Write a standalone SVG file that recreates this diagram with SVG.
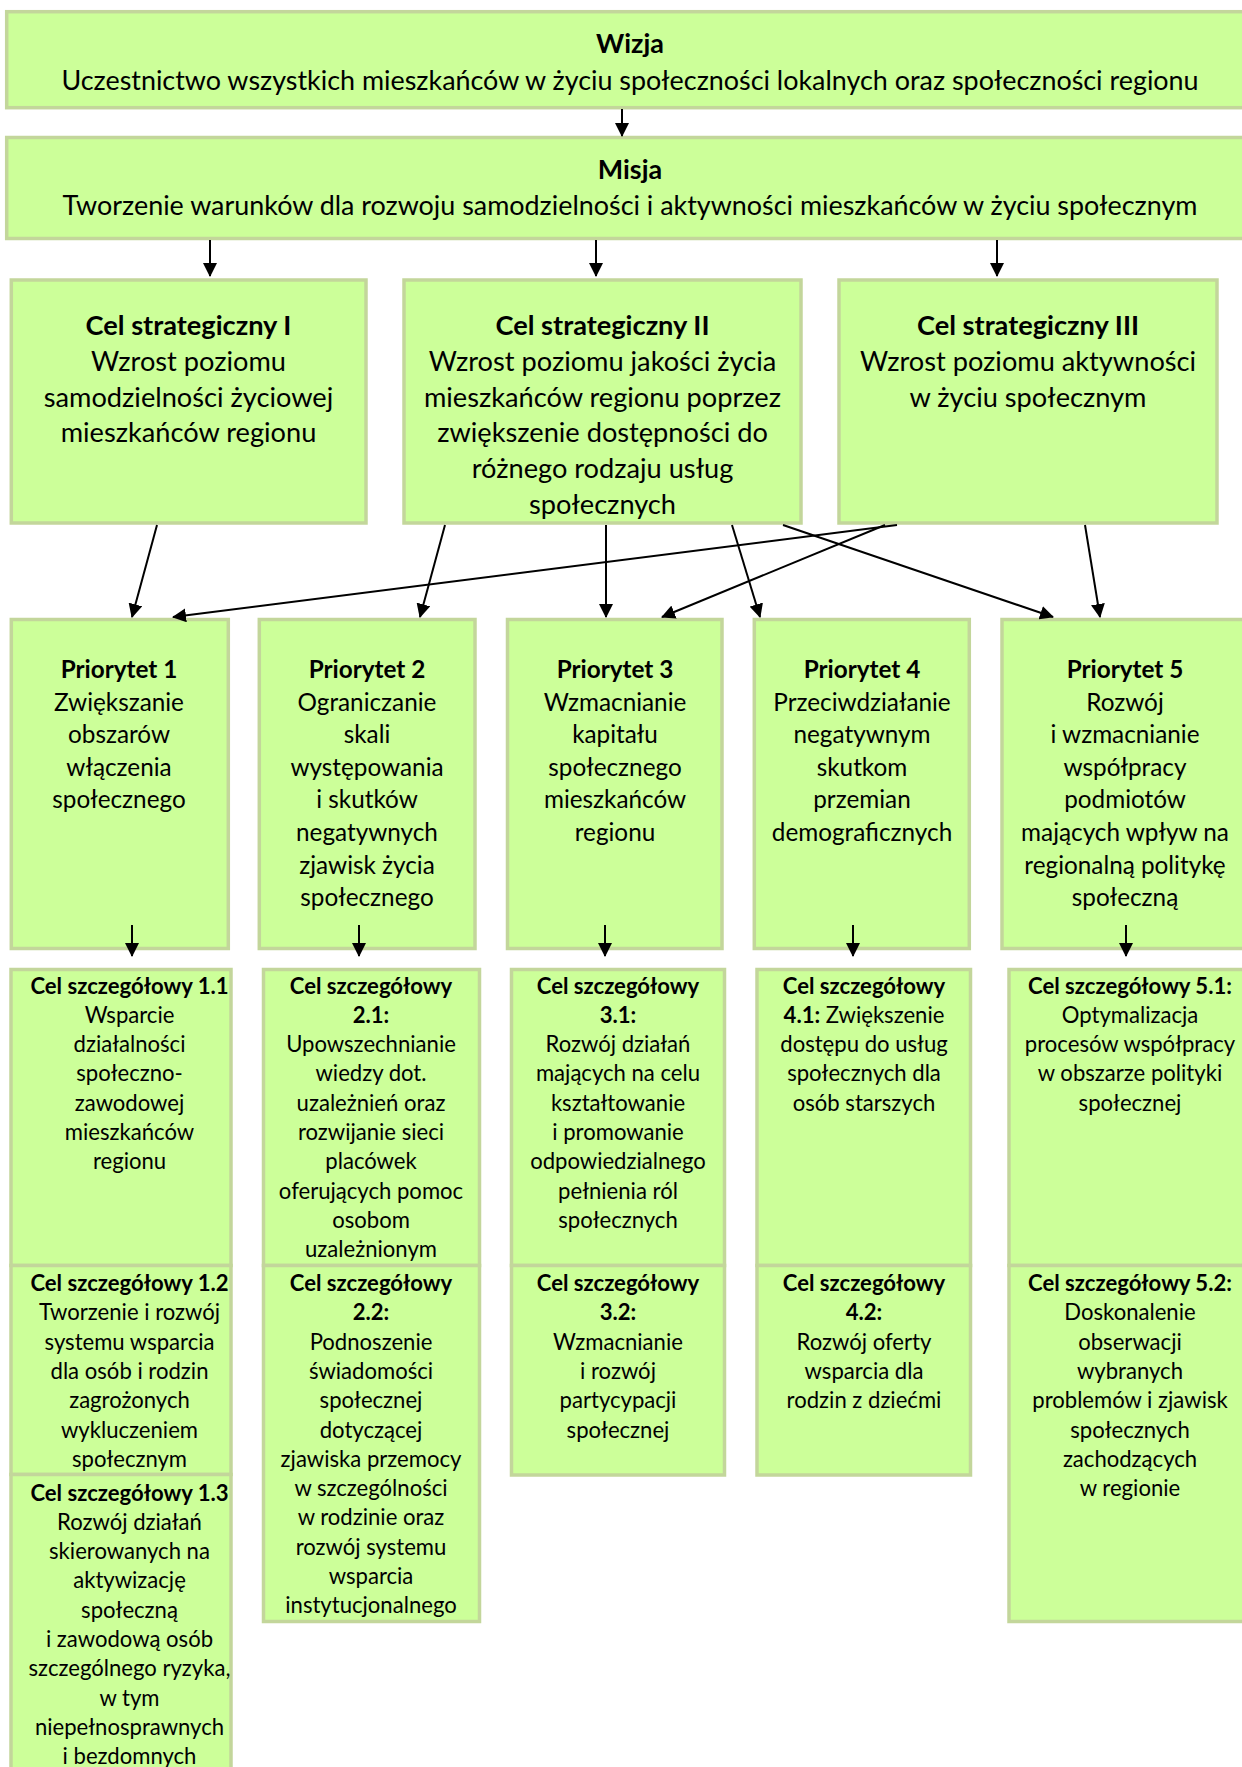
<svg xmlns="http://www.w3.org/2000/svg" width="1242" height="1767" viewBox="0 0 1242 1767">
<defs>
<marker id="ah" viewBox="0 0 14 14" markerWidth="14" markerHeight="14" refX="13" refY="7" orient="auto" markerUnits="userSpaceOnUse"><path d="M0,0 L14,7 L0,14 z" fill="#000"/></marker>
<style>
.box{fill:#CCFF99;stroke:#C3D69B;stroke-width:3.5}
text{font-family:Lato,"Noto Sans",sans-serif;fill:#000;text-anchor:middle}
.b{font-weight:bold}
.t1{font-size:26.9px}
.t2{font-size:27.2px}
.t3{font-size:24.3px}
.t4{font-size:22.1px}
.c{stroke:#000;stroke-width:2;fill:none;marker-end:url(#ah)}
</style>
</defs>
<rect width="1242" height="1767" fill="#fff"/>

<g id="wizja">
<rect class="box" x="6.7" y="11.7" width="1260" height="96"/>
<text class="t1 b" x="630" y="53">Wizja</text>
<text class="t1" x="630" y="90">Uczestnictwo wszystkich mieszkańców w życiu społeczności lokalnych oraz społeczności regionu</text>
</g>
<g id="misja">
<rect class="box" x="6.7" y="137.5" width="1260" height="101"/>
<text class="t1 b" x="630" y="179">Misja</text>
<text class="t1" x="630" y="215">Tworzenie warunków dla rozwoju samodzielności i aktywności mieszkańców w życiu społecznym</text>
</g>

<g id="cel-strategiczny-1">
<rect class="box" x="11.3" y="280" width="354.7" height="243"/>
<text class="t2"><tspan class="b" x="188.5" y="335">Cel strategiczny I</tspan><tspan x="188.5" y="370.8">Wzrost poziomu</tspan><tspan x="188.5" y="406.6">samodzielności życiowej</tspan><tspan x="188.5" y="442.4">mieszkańców regionu</tspan></text>
</g>
<g id="cel-strategiczny-2">
<rect class="box" x="404" y="280" width="397" height="243"/>
<text class="t2"><tspan class="b" x="602.5" y="335">Cel strategiczny II</tspan><tspan x="602.5" y="370.8">Wzrost poziomu jakości życia</tspan><tspan x="602.5" y="406.6">mieszkańców regionu poprzez</tspan><tspan x="602.5" y="442.4">zwiększenie dostępności do</tspan><tspan x="602.5" y="478.2">różnego rodzaju usług</tspan><tspan x="602.5" y="514">społecznych</tspan></text>
</g>
<g id="cel-strategiczny-3">
<rect class="box" x="839" y="280" width="378" height="243"/>
<text class="t2"><tspan class="b" x="1028" y="335">Cel strategiczny III</tspan><tspan x="1028" y="370.8">Wzrost poziomu aktywności</tspan><tspan x="1028" y="406.6">w życiu społecznym</tspan></text>
</g>

<g id="priorytet-1">
<rect class="box" x="11.3" y="619.5" width="217" height="329"/>
<text class="t3"><tspan class="b" x="119" y="678">Priorytet 1</tspan><tspan x="119" y="710.6">Zwiększanie</tspan><tspan x="119" y="743.2">obszarów</tspan><tspan x="119" y="775.8">włączenia</tspan><tspan x="119" y="808.4">społecznego</tspan></text>
</g>
<g id="priorytet-2">
<rect class="box" x="259.3" y="619.5" width="215.7" height="329"/>
<text class="t3"><tspan class="b" x="367" y="678">Priorytet 2</tspan><tspan x="367" y="710.6">Ograniczanie</tspan><tspan x="367" y="743.2">skali</tspan><tspan x="367" y="775.8">występowania</tspan><tspan x="367" y="808.4">i skutków</tspan><tspan x="367" y="841">negatywnych</tspan><tspan x="367" y="873.6">zjawisk życia</tspan><tspan x="367" y="906.2">społecznego</tspan></text>
</g>
<g id="priorytet-3">
<rect class="box" x="507.5" y="619.5" width="214.5" height="329"/>
<text class="t3"><tspan class="b" x="615" y="678">Priorytet 3</tspan><tspan x="615" y="710.6">Wzmacnianie</tspan><tspan x="615" y="743.2">kapitału</tspan><tspan x="615" y="775.8">społecznego</tspan><tspan x="615" y="808.4">mieszkańców</tspan><tspan x="615" y="841">regionu</tspan></text>
</g>
<g id="priorytet-4">
<rect class="box" x="754.3" y="619.5" width="215" height="329"/>
<text class="t3"><tspan class="b" x="862" y="678">Priorytet 4</tspan><tspan x="862" y="710.6">Przeciwdziałanie</tspan><tspan x="862" y="743.2">negatywnym</tspan><tspan x="862" y="775.8">skutkom</tspan><tspan x="862" y="808.4">przemian</tspan><tspan x="862" y="841">demograficznych</tspan></text>
</g>
<g id="priorytet-5">
<rect class="box" x="1002" y="619.5" width="260" height="329"/>
<text class="t3"><tspan class="b" x="1125" y="678">Priorytet 5</tspan><tspan x="1125" y="710.6">Rozwój</tspan><tspan x="1125" y="743.2">i wzmacnianie</tspan><tspan x="1125" y="775.8">współpracy</tspan><tspan x="1125" y="808.4">podmiotów</tspan><tspan x="1125" y="841">mających wpływ na</tspan><tspan x="1125" y="873.6">regionalną politykę</tspan><tspan x="1125" y="906.2">społeczną</tspan></text>
</g>

<g id="cel-1-1">
<rect class="box" x="11" y="969.5" width="220" height="296"/>
<text class="t4"><tspan class="b" x="129.5" y="993.5">Cel szczegółowy 1.1</tspan><tspan x="129.5" y="1022.8">Wsparcie</tspan><tspan x="129.5" y="1052.1">działalności</tspan><tspan x="129.5" y="1081.4">społeczno-</tspan><tspan x="129.5" y="1110.7">zawodowej</tspan><tspan x="129.5" y="1140">mieszkańców</tspan><tspan x="129.5" y="1169.3">regionu</tspan></text>
</g>
<g id="cel-1-2">
<rect class="box" x="11" y="1265.5" width="220" height="209"/>
<text class="t4"><tspan class="b" x="129.5" y="1291">Cel szczegółowy 1.2</tspan><tspan x="129.5" y="1320.3">Tworzenie i rozwój</tspan><tspan x="129.5" y="1349.6">systemu wsparcia</tspan><tspan x="129.5" y="1378.9">dla osób i rodzin</tspan><tspan x="129.5" y="1408.2">zagrożonych</tspan><tspan x="129.5" y="1437.5">wykluczeniem</tspan><tspan x="129.5" y="1466.8">społecznym</tspan></text>
</g>
<g id="cel-1-3">
<rect class="box" x="11" y="1474.5" width="220" height="320"/>
<text class="t4"><tspan class="b" x="129.5" y="1500.5">Cel szczegółowy 1.3</tspan><tspan x="129.5" y="1529.8">Rozwój działań</tspan><tspan x="129.5" y="1559.1">skierowanych na</tspan><tspan x="129.5" y="1588.4">aktywizację</tspan><tspan x="129.5" y="1617.7">społeczną</tspan><tspan x="129.5" y="1647">i zawodową osób</tspan><tspan x="129.5" y="1676.3">szczególnego ryzyka,</tspan><tspan x="129.5" y="1705.6">w tym</tspan><tspan x="129.5" y="1734.9">niepełnosprawnych</tspan><tspan x="129.5" y="1764.2">i bezdomnych</tspan></text>
</g>

<g id="cel-2-1">
<rect class="box" x="263.5" y="969.5" width="216" height="296"/>
<text class="t4"><tspan class="b" x="371" y="993.5">Cel szczegółowy</tspan><tspan class="b" x="371" y="1022.8">2.1:</tspan><tspan x="371" y="1052.1">Upowszechnianie</tspan><tspan x="371" y="1081.4">wiedzy dot.</tspan><tspan x="371" y="1110.7">uzależnień oraz</tspan><tspan x="371" y="1140">rozwijanie sieci</tspan><tspan x="371" y="1169.3">placówek</tspan><tspan x="371" y="1198.6">oferujących pomoc</tspan><tspan x="371" y="1227.9">osobom</tspan><tspan x="371" y="1257.2">uzależnionym</tspan></text>
</g>
<g id="cel-2-2">
<rect class="box" x="263.5" y="1265.5" width="216" height="356"/>
<text class="t4"><tspan class="b" x="371" y="1291">Cel szczegółowy</tspan><tspan class="b" x="371" y="1320.3">2.2:</tspan><tspan x="371" y="1349.6">Podnoszenie</tspan><tspan x="371" y="1378.9">świadomości</tspan><tspan x="371" y="1408.2">społecznej</tspan><tspan x="371" y="1437.5">dotyczącej</tspan><tspan x="371" y="1466.8">zjawiska przemocy</tspan><tspan x="371" y="1496.1">w szczególności</tspan><tspan x="371" y="1525.4">w rodzinie oraz</tspan><tspan x="371" y="1554.7">rozwój systemu</tspan><tspan x="371" y="1584">wsparcia</tspan><tspan x="371" y="1613.3">instytucjonalnego</tspan></text>
</g>

<g id="cel-3-1">
<rect class="box" x="511.5" y="969.5" width="213" height="296"/>
<text class="t4"><tspan class="b" x="618" y="993.5">Cel szczegółowy</tspan><tspan class="b" x="618" y="1022.8">3.1:</tspan><tspan x="618" y="1052.1">Rozwój działań</tspan><tspan x="618" y="1081.4">mających na celu</tspan><tspan x="618" y="1110.7">kształtowanie</tspan><tspan x="618" y="1140">i promowanie</tspan><tspan x="618" y="1169.3">odpowiedzialnego</tspan><tspan x="618" y="1198.6">pełnienia ról</tspan><tspan x="618" y="1227.9">społecznych</tspan></text>
</g>
<g id="cel-3-2">
<rect class="box" x="511.5" y="1265.5" width="213" height="209.5"/>
<text class="t4"><tspan class="b" x="618" y="1291">Cel szczegółowy</tspan><tspan class="b" x="618" y="1320.3">3.2:</tspan><tspan x="618" y="1349.6">Wzmacnianie</tspan><tspan x="618" y="1378.9">i rozwój</tspan><tspan x="618" y="1408.2">partycypacji</tspan><tspan x="618" y="1437.5">społecznej</tspan></text>
</g>

<g id="cel-4-1">
<rect class="box" x="757" y="969.5" width="213.5" height="296"/>
<text class="t4"><tspan class="b" x="864" y="993.5">Cel szczegółowy</tspan><tspan x="864" y="1022.8"><tspan class="b">4.1:</tspan> Zwiększenie</tspan><tspan x="864" y="1052.1">dostępu do usług</tspan><tspan x="864" y="1081.4">społecznych dla</tspan><tspan x="864" y="1110.7">osób starszych</tspan></text>
</g>
<g id="cel-4-2">
<rect class="box" x="757" y="1265.5" width="213.5" height="209.5"/>
<text class="t4"><tspan class="b" x="864" y="1291">Cel szczegółowy</tspan><tspan class="b" x="864" y="1320.3">4.2:</tspan><tspan x="864" y="1349.6">Rozwój oferty</tspan><tspan x="864" y="1378.9">wsparcia dla</tspan><tspan x="864" y="1408.2">rodzin z dziećmi</tspan></text>
</g>

<g id="cel-5-1">
<rect class="box" x="1009" y="969.5" width="260" height="296"/>
<text class="t4"><tspan class="b" x="1130" y="993.5">Cel szczegółowy 5.1:</tspan><tspan x="1130" y="1022.8">Optymalizacja</tspan><tspan x="1130" y="1052.1">procesów współpracy</tspan><tspan x="1130" y="1081.4">w obszarze polityki</tspan><tspan x="1130" y="1110.7">społecznej</tspan></text>
</g>
<g id="cel-5-2">
<rect class="box" x="1009" y="1265.5" width="260" height="356"/>
<text class="t4"><tspan class="b" x="1130" y="1291">Cel szczegółowy 5.2:</tspan><tspan x="1130" y="1320.3">Doskonalenie</tspan><tspan x="1130" y="1349.6">obserwacji</tspan><tspan x="1130" y="1378.9">wybranych</tspan><tspan x="1130" y="1408.2">problemów i zjawisk</tspan><tspan x="1130" y="1437.5">społecznych</tspan><tspan x="1130" y="1466.8">zachodzących</tspan><tspan x="1130" y="1496.1">w regionie</tspan></text>
</g>

<g id="connectors">
<path class="c" d="M622,109 L622,136"/>
<path class="c" d="M210,240 L210,276"/>
<path class="c" d="M596,240 L596,276"/>
<path class="c" d="M997,240 L997,276"/>
<path class="c" d="M157,525 L132,617"/>
<path class="c" d="M897,525 L173,617"/>
<path class="c" d="M885,525 L662,617"/>
<path class="c" d="M445,525 L420,617"/>
<path class="c" d="M606,525 L606,617"/>
<path class="c" d="M732,525 L760,617"/>
<path class="c" d="M783,525 L1053,617"/>
<path class="c" d="M1085,525 L1100,617"/>
<path class="c" d="M132,925 L132,956"/>
<path class="c" d="M359,925 L359,956"/>
<path class="c" d="M605,925 L605,956"/>
<path class="c" d="M853,925 L853,956"/>
<path class="c" d="M1126,925 L1126,956"/>
</g>
</svg>
